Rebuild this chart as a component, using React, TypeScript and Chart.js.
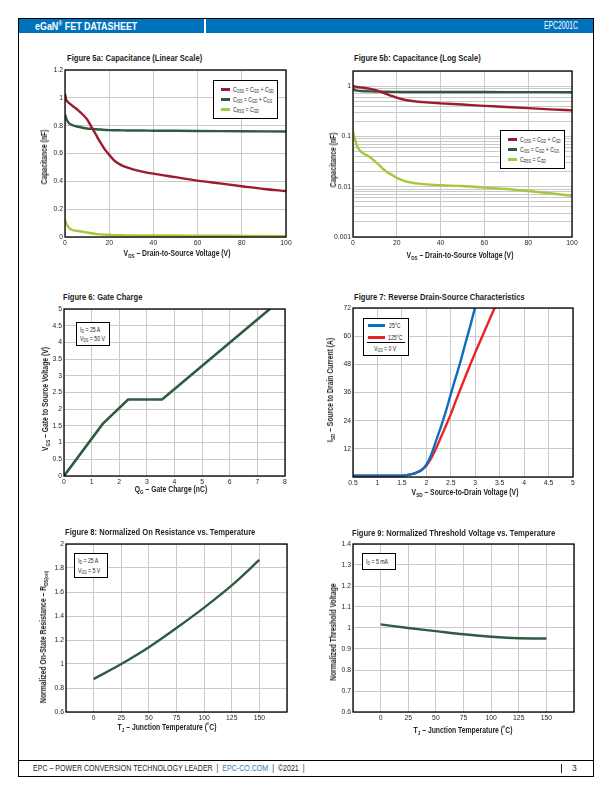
import React, { useEffect, useRef } from 'react';
import { Chart, registerables } from 'chart.js';
Chart.register(...registerables);

const FONT = '"Liberation Sans", Arial, sans-serif';
const GRID = '#c9c9c9';
const TXT = '#231f20';

// ---------- Figure 5a / 5b : capacitance ----------
const vdsCap = [0, 0.5, 1, 2, 4, 6, 8, 10, 12, 14, 16, 18, 20, 22, 24, 27, 30, 35, 40, 50, 60, 70, 80, 90, 100];
const cossVals = [1.03, 0.99, 0.975, 0.96, 0.935, 0.91, 0.88, 0.845, 0.79, 0.735, 0.68, 0.63, 0.59, 0.555, 0.53, 0.505, 0.49, 0.47, 0.455, 0.43, 0.405, 0.385, 0.365, 0.345, 0.33];
const cissVals = [0.88, 0.855, 0.835, 0.815, 0.8, 0.792, 0.785, 0.78, 0.777, 0.774, 0.772, 0.77, 0.768, 0.767, 0.767, 0.766, 0.765, 0.765, 0.764, 0.763, 0.762, 0.761, 0.76, 0.759, 0.758];
const crssVals = [0.125, 0.1, 0.085, 0.062, 0.048, 0.043, 0.038, 0.032, 0.027, 0.022, 0.019, 0.017, 0.015, 0.0138, 0.0128, 0.012, 0.0115, 0.011, 0.0107, 0.0103, 0.0096, 0.009, 0.0082, 0.0074, 0.0066];
const capXTicks = [0, 20, 40, 60, 80, 100];
const capLinYTicks = [0, 0.2, 0.4, 0.6, 0.8, 1, 1.2];
const capLogYLabels = [0.001, 0.01, 0.1, 1];
const capLogGrid = [0.001, 0.002, 0.003, 0.004, 0.005, 0.006, 0.007, 0.008, 0.009, 0.01, 0.02, 0.03, 0.04, 0.05, 0.06, 0.07, 0.08, 0.09, 0.1, 0.2, 0.3, 0.4, 0.5, 0.6, 0.7, 0.8, 0.9, 1, 2];

// ---------- Figure 6 : gate charge ----------
const qgVals = [0, 1.4, 2.32, 3.55, 7.45];
const vgsVals = [0, 1.56, 2.29, 2.29, 5.0];
const qgXTicks = [0, 1, 2, 3, 4, 5, 6, 7, 8];
const vgsYTicks = [0, 0.5, 1, 1.5, 2, 2.5, 3, 3.5, 4, 4.5, 5];

// ---------- Figure 7 : reverse drain-source ----------
const vsd25 = [0.5, 1.5, 1.6, 1.7, 1.8, 1.9, 2.0, 2.1, 2.2, 2.3, 2.4, 2.5, 2.6, 2.7, 2.8, 2.9, 3.0];
const isd25 = [0.6, 0.6, 0.8, 1.2, 1.9, 3.0, 5.3, 9.5, 15.5, 21.5, 28, 35.3, 42.3, 49.3, 57, 64.5, 72.5];
const vsd125 = [0.5, 1.5, 1.6, 1.7, 1.8, 1.9, 2.0, 2.1, 2.2, 2.3, 2.4, 2.5, 2.6, 2.7, 2.8, 2.9, 3.0, 3.1, 3.2, 3.3, 3.4];
const isd125 = [0.6, 0.6, 0.8, 1.2, 1.9, 2.9, 4.8, 8, 12.2, 17, 21.8, 26.8, 32.2, 37.6, 42.8, 48, 53, 57.8, 62.6, 67.4, 72.2];
const vsdXTicks = [0.5, 1, 1.5, 2, 2.5, 3, 3.5, 4, 4.5, 5];
const isdYTicks = [0, 12, 24, 36, 48, 60, 72];
const isdYLabels = [12, 24, 36, 48, 60, 72];

// ---------- Figure 8 / 9 : temperature ----------
const tjVals = [0, 25, 50, 75, 100, 125, 150];
const rdsVals = [0.875, 1.0, 1.14, 1.3, 1.47, 1.655, 1.867];
const vthVals = [1.017, 1.0, 0.985, 0.97, 0.958, 0.951, 0.95];
const tjXTicks = [-25, 0, 25, 50, 75, 100, 125, 150, 175];
const tjXLabels = [0, 25, 50, 75, 100, 125, 150];
const rdsYTicks = [0.6, 0.8, 1, 1.2, 1.4, 1.6, 1.8, 2];
const vthYTicks = [0.6, 0.7, 0.8, 0.9, 1, 1.1, 1.2, 1.3, 1.4];

const C_COSS = '#9b1b2f';
const C_CISS = '#2e5a3f';
const C_CRSS = '#a4c93c';
const C_DARK = '#2f5b40';
const C_BLUE = '#0b6fbd';
const C_RED = '#ec2128';

const fmt = (v: number) => String(Math.round(v * 1000) / 1000);

function axis(type: string, min: number, max: number, ticks: number[], labels?: number[]) {
  return {
    type,
    min,
    max,
    grid: { color: GRID, lineWidth: 1, drawTicks: false },
    border: { display: false },
    ticks: {
      font: { family: FONT, size: 6.8 },
      color: TXT,
      padding: 2,
      autoSkip: false,
      maxRotation: 0,
      minRotation: 0,
      callback: (v: any) => {
        const n = Number(v);
        if (labels && !labels.some((l) => Math.abs(l - n) < 1e-9)) return '';
        return fmt(n);
      },
    },
    afterBuildTicks: (s: any) => {
      s.ticks = ticks.map((v) => ({ value: v }));
    },
  };
}

function ds(xs: number[], ys: number[], color: string, smooth = true, width = 2.4) {
  return {
    data: xs.map((x, i) => ({ x, y: ys[i] })),
    borderColor: color,
    backgroundColor: color,
    borderWidth: width,
    pointRadius: 0,
    tension: smooth ? 0.4 : 0,
    cubicInterpolationMode: smooth ? 'monotone' : 'default',
    fill: false,
  };
}

const framePlugin = {
  id: 'frame',
  afterDatasetsDraw(chart: any) {
    const { ctx, chartArea: a } = chart;
    ctx.save();
    ctx.strokeStyle = '#000';
    ctx.lineWidth = 1.3;
    ctx.strokeRect(a.left, a.top, a.right - a.left, a.bottom - a.top);
    ctx.restore();
  },
};

type Rect = { l: number; t: number; r: number; b: number };
const PADL = 36, PADR = 10, PADT = 8, PADB = 13;

function Plot({ rect, datasets, x, y }: { rect: Rect; datasets: any[]; x: any; y: any }) {
  const ref = useRef<HTMLCanvasElement>(null);
  const w = rect.r - rect.l + PADL + PADR;
  const h = rect.b - rect.t + PADT + PADB;
  useEffect(() => {
    const chart = new Chart(ref.current as HTMLCanvasElement, {
      type: 'line',
      data: { datasets },
      options: {
        responsive: false,
        animation: false,
        devicePixelRatio: 1,
        parsing: false as any,
        layout: { padding: { left: 0, right: PADR, top: PADT, bottom: 0 } },
        plugins: { legend: { display: false }, tooltip: { enabled: false } },
        scales: {
          x: { ...x, afterFit: (s: any) => { s.height = PADB; } },
          y: { ...y, afterFit: (s: any) => { s.width = PADL; } },
        },
      } as any,
      plugins: [framePlugin],
    });
    return () => chart.destroy();
  }, []);
  return (
    <canvas
      ref={ref}
      width={w}
      height={h}
      style={{ position: 'absolute', left: rect.l - PADL, top: rect.t - PADT, width: w, height: h }}
    />
  );
}

const S = ({ children }: { children: any }) => (
  <span style={{ fontSize: '0.68em', position: 'relative', top: '0.3em', lineHeight: 0 }}>{children}</span>
);

const K_TITLE = 0.8;
const K_AXIS = 0.8;
const K_SMALL = 0.74;

function Title({ x, y, children }: any) {
  return (
    <div style={{ position: 'absolute', left: x, top: y - 6, fontFamily: FONT, fontWeight: 'bold', fontSize: 9.5, lineHeight: '12px', whiteSpace: 'nowrap', color: TXT, transform: `scaleX(${K_TITLE})`, transformOrigin: 'left center' }}>
      {children}
    </div>
  );
}

function XTitle({ x, y, children }: any) {
  return (
    <div style={{ position: 'absolute', left: x, top: y, transform: `translate(-50%,-50%) scaleX(${K_AXIS})`, fontFamily: FONT, fontWeight: 'bold', fontSize: 8.5, lineHeight: '10px', whiteSpace: 'nowrap', color: TXT }}>
      {children}
    </div>
  );
}

function YTitle({ x, y, children }: any) {
  return (
    <div style={{ position: 'absolute', left: x, top: y, transform: `translate(-50%,-50%) rotate(-90deg) scaleX(${K_AXIS})`, fontFamily: FONT, fontWeight: 'bold', fontSize: 8.5, lineHeight: '10px', whiteSpace: 'nowrap', color: TXT }}>
      {children}
    </div>
  );
}

function Box({ l, t, w, h, children }: any) {
  return (
    <div style={{ position: 'absolute', left: l, top: t, width: w, height: h, border: '1.3px solid #000', background: '#fff', boxSizing: 'border-box', fontFamily: FONT, fontSize: 7, color: TXT }}>
      {children}
    </div>
  );
}

function Txt({ left, top, children }: any) {
  return (
    <div style={{ position: 'absolute', left, top, height: 9, lineHeight: '9px', whiteSpace: 'nowrap', transform: `scaleX(${K_SMALL})`, transformOrigin: 'left center' }}>
      {children}
    </div>
  );
}

function Swatch({ left, top, width, color }: any) {
  return <div style={{ position: 'absolute', left, top, width, height: 3, background: color }} />;
}

function CapLegend({ l, t }: any) {
  return (
    <Box l={l} t={t} w={65} h={39}>
      <Swatch left={7} top={7} width={9} color={C_COSS} />
      <Txt left={19} top={4}>C<S>OSS</S> = C<S>GD</S> + C<S>SD</S></Txt>
      <Swatch left={7} top={17} width={9} color={C_CISS} />
      <Txt left={19} top={14}>C<S>ISS</S> = C<S>GD</S> + C<S>GS</S></Txt>
      <Swatch left={7} top={27} width={9} color={C_CRSS} />
      <Txt left={19} top={24}>C<S>RSS</S> = C<S>GD</S></Txt>
    </Box>
  );
}

export default function App() {
  const r5a = { l: 65, t: 70, r: 286, b: 237 };
  const r5b = { l: 353, t: 71, r: 572, b: 237 };
  const r6 = { l: 64, t: 309, r: 285, b: 476 };
  const r7 = { l: 353, t: 308, r: 573, b: 477 };
  const r8 = { l: 66, t: 544, r: 287, b: 712 };
  const r9 = { l: 353, t: 544, r: 574, b: 712 };

  const capSets = [ds(vdsCap, cossVals, C_COSS), ds(vdsCap, cissVals, C_CISS), ds(vdsCap, crssVals, C_CRSS)];

  return (
    <div style={{ position: 'absolute', left: 0, top: 0, width: 612, height: 792, background: '#fff', overflow: 'hidden', fontFamily: FONT }}>
      {/* page frame */}
      <div style={{ position: 'absolute', left: 18, top: 18, width: 576, height: 759, border: '1px solid #000', boxSizing: 'border-box' }} />
      {/* header */}
      <div style={{ position: 'absolute', left: 19, top: 19, width: 574, height: 14, background: '#0071bb' }} />
      <div style={{ position: 'absolute', left: 204, top: 19, width: 1.5, height: 14, background: '#fff' }} />
      <div style={{ position: 'absolute', left: 35, top: 19, height: 14, lineHeight: '14px', color: '#fff', fontWeight: 'bold', fontSize: 10.5, whiteSpace: 'nowrap', transform: 'scaleX(0.85)', transformOrigin: 'left center' }}>
        eGaN<sup style={{ fontSize: '0.6em', lineHeight: 0 }}>®</sup> FET DATASHEET
      </div>
      <div style={{ position: 'absolute', right: 34, top: 19, height: 14, lineHeight: '14px', color: '#fff', fontSize: 10, whiteSpace: 'nowrap', transform: 'scaleX(0.68)', transformOrigin: 'right center' }}>
        EPC2001C
      </div>
      {/* footer */}
      <div style={{ position: 'absolute', left: 18, top: 760, width: 576, height: 1, background: '#000' }} />
      <div style={{ position: 'absolute', left: 33, top: 762, height: 13, lineHeight: '13px', fontSize: 8.5, color: TXT, whiteSpace: 'nowrap', transform: 'scaleX(0.83)', transformOrigin: 'left center' }}>
        EPC – POWER CONVERSION TECHNOLOGY LEADER &nbsp;|&nbsp; <span style={{ color: '#3a78b8' }}>EPC-CO.COM</span> &nbsp;|&nbsp; ©2021 &nbsp;|
      </div>
      <div style={{ position: 'absolute', left: 561, top: 764, width: 0.8, height: 9, background: TXT }} />
      <div style={{ position: 'absolute', left: 572, top: 762, height: 13, lineHeight: '13px', fontSize: 8.5, color: TXT, whiteSpace: 'nowrap' }}>
        3
      </div>

      {/* Figure 5a */}
      <Title x={67} y={58}>Figure 5a: Capacitance (Linear Scale)</Title>
      <Plot rect={r5a} datasets={capSets} x={axis('linear', 0, 100, capXTicks)} y={axis('linear', 0, 1.2, capLinYTicks)} />
      <CapLegend l={213} t={80} />
      <XTitle x={177} y={253}>V<S>DS</S> – Drain-to-Source Voltage (V)</XTitle>
      <YTitle x={44} y={157}>Capacitance (nF)</YTitle>

      {/* Figure 5b */}
      <Title x={354} y={58}>Figure 5b: Capacitance (Log Scale)</Title>
      <Plot rect={r5b} datasets={capSets.map((d) => ({ ...d }))} x={axis('linear', 0, 100, capXTicks)} y={axis('logarithmic', 0.001, 2, capLogGrid, capLogYLabels)} />
      <CapLegend l={500} t={130} />
      <XTitle x={460} y={255}>V<S>DS</S> – Drain-to-Source Voltage (V)</XTitle>
      <YTitle x={333} y={160}>Capacitance (nF)</YTitle>

      {/* Figure 6 */}
      <Title x={63} y={297}>Figure 6: Gate Charge</Title>
      <Plot rect={r6} datasets={[ds(qgVals, vgsVals, C_DARK, false, 2.6)]} x={axis('linear', 0, 8, qgXTicks)} y={axis('linear', 0, 5, vgsYTicks)} />
      <Box l={76} t={322} w={34} h={24}>
        <Txt left={3} top={2}>I<S>D</S> = 25 A</Txt>
        <Txt left={3} top={11}>V<S>DS</S> = 50 V</Txt>
      </Box>
      <XTitle x={171} y={489}>Q<S>G</S> – Gate Charge (nC)</XTitle>
      <YTitle x={45} y={399}>V<S>GS</S> – Gate to Source Voltage (V)</YTitle>

      {/* Figure 7 */}
      <Title x={354} y={297}>Figure 7: Reverse Drain-Source Characteristics</Title>
      <Plot rect={r7} datasets={[ds(vsd25, isd25, C_BLUE), ds(vsd125, isd125, C_RED)]} x={axis('linear', 0.5, 5, vsdXTicks)} y={axis('linear', 0, 72, isdYTicks, isdYLabels)} />
      <Box l={363} t={318} w={46} h={38}>
        <Swatch left={4} top={5} width={17} color={C_BLUE} />
        <Txt left={25} top={2}>25°C</Txt>
        <Swatch left={4} top={17} width={17} color={C_RED} />
        <Txt left={24} top={14}>125°C</Txt>
        <div style={{ position: 'absolute', left: 3, top: 23, width: 38, height: 1, background: '#000' }} />
        <Txt left={10} top={25}>V<S>GS</S> = 0 V</Txt>
      </Box>
      <XTitle x={465} y={492}>V<S>SD</S> – Source-to-Drain Voltage (V)</XTitle>
      <YTitle x={330} y={390}>I<S>SD</S> – Source to Drain Current (A)</YTitle>

      {/* Figure 8 */}
      <Title x={65} y={532}>Figure 8: Normalized On Resistance vs. Temperature</Title>
      <Plot rect={r8} datasets={[ds(tjVals, rdsVals, C_DARK)]} x={axis('linear', -25, 175, tjXTicks, tjXLabels)} y={axis('linear', 0.6, 2, rdsYTicks)} />
      <Box l={74} t={553} w={34} h={25}>
        <Txt left={3} top={2}>I<S>D</S> = 25 A</Txt>
        <Txt left={3} top={12}>V<S>GS</S> = 5 V</Txt>
      </Box>
      <XTitle x={167} y={727}>T<S>J</S> – Junction Temperature (˚C)</XTitle>
      <YTitle x={43} y={637}>Normalized On-State Resistance – R<S>DS(on)</S></YTitle>

      {/* Figure 9 */}
      <Title x={352} y={533}>Figure 9: Normalized Threshold Voltage vs. Temperature</Title>
      <Plot rect={r9} datasets={[ds(tjVals, vthVals, C_DARK)]} x={axis('linear', -25, 175, tjXTicks, tjXLabels)} y={axis('linear', 0.6, 1.4, vthYTicks)} />
      <Box l={362} t={553} w={34} h={17}>
        <Txt left={3} top={3}>I<S>D</S> = 5 mA</Txt>
      </Box>
      <XTitle x={463} y={730}>T<S>J</S> – Junction Temperature (˚C)</XTitle>
      <YTitle x={333} y={632}>Normalized Threshold Voltage</YTitle>
    </div>
  );
}
